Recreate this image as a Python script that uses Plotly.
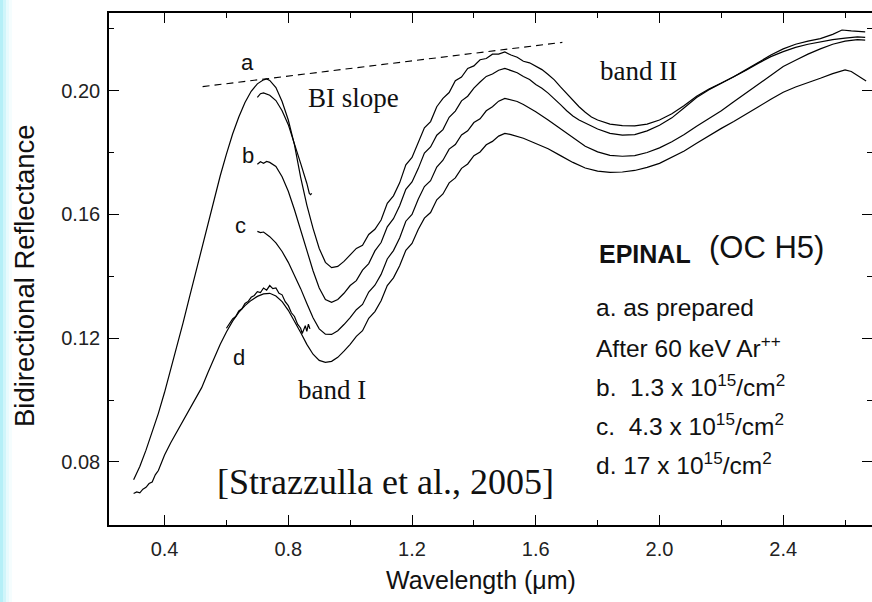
import plotly.graph_objects as go

# ---------------- data ----------------
a_x = [0.30, 0.32, 0.34, 0.36, 0.38, 0.40, 0.42, 0.44, 0.46, 0.48, 0.50, 0.52, 0.54, 0.56, 0.58, 0.60,
       0.62, 0.64, 0.66, 0.68, 0.70, 0.72, 0.73, 0.74, 0.76, 0.78, 0.80, 0.82, 0.84, 0.86, 0.88, 0.90,
       0.92, 0.94, 0.96, 0.98, 1.00, 1.02, 1.04, 1.06, 1.08, 1.10, 1.12, 1.14, 1.16, 1.18, 1.20, 1.22,
       1.24, 1.26, 1.28, 1.30, 1.32, 1.34, 1.36, 1.38, 1.40, 1.42, 1.44, 1.46, 1.48, 1.50, 1.52, 1.54,
       1.56, 1.58, 1.60, 1.62, 1.64, 1.66, 1.68, 1.70, 1.72, 1.74, 1.76, 1.78, 1.80, 1.84, 1.88, 1.92,
       1.96, 2.00, 2.04, 2.08, 2.12, 2.16, 2.20, 2.24, 2.28, 2.32, 2.36, 2.40, 2.44, 2.48, 2.52, 2.56,
       2.59, 2.62, 2.665]
a_y = [0.0742, 0.0785, 0.0838, 0.0895, 0.0957, 0.1025, 0.1097, 0.1172, 0.1250, 0.1330, 0.1410, 0.1490,
       0.1570, 0.1650, 0.1725, 0.1795, 0.1860, 0.1915, 0.1962, 0.1998, 0.2022, 0.2035, 0.2038, 0.2033,
       0.2010, 0.1965, 0.1905, 0.1825, 0.1720, 0.1630, 0.1555, 0.1490, 0.1445, 0.1428, 0.1432, 0.1448,
       0.1468, 0.1490, 0.1500, 0.1535, 0.1552, 0.1582, 0.1636, 0.1660, 0.1702, 0.1760, 0.1784, 0.1830,
       0.1880, 0.1900, 0.1948, 0.1975, 0.1994, 0.2032, 0.2044, 0.2072, 0.2080, 0.2100, 0.2104, 0.2118,
       0.2118, 0.2125, 0.2115, 0.2108, 0.2095, 0.2090, 0.2078, 0.2068, 0.2052, 0.2035, 0.2012, 0.1990,
       0.1968, 0.1948, 0.1930, 0.1915, 0.1905, 0.1892, 0.1887, 0.1886, 0.1892, 0.1905, 0.1925, 0.1952,
       0.1982, 0.2005, 0.2025, 0.2045, 0.2068, 0.2092, 0.2115, 0.2135, 0.2150, 0.2160, 0.2168, 0.2182,
       0.2196, 0.2193, 0.2190]

a2_x = [0.700, 0.705, 0.71, 0.72, 0.73, 0.74, 0.76, 0.78, 0.80, 0.82, 0.84, 0.86, 0.868, 0.872, 0.876]
a2_y = [0.1978, 0.1985, 0.1990, 0.1993, 0.1990, 0.1985, 0.1968, 0.1935, 0.1890, 0.1830, 0.1765, 0.1700,
        0.1668, 0.1664, 0.1668]

b_x = [0.70, 0.71, 0.72, 0.73, 0.74, 0.76, 0.78, 0.80, 0.82, 0.84, 0.86, 0.88, 0.90, 0.92, 0.94, 0.96,
       0.98, 1.00, 1.02, 1.04, 1.06, 1.08, 1.10, 1.12, 1.14, 1.16, 1.18, 1.20, 1.22, 1.24, 1.26, 1.28,
       1.30, 1.32, 1.34, 1.36, 1.38, 1.40, 1.42, 1.44, 1.46, 1.48, 1.50, 1.52, 1.54, 1.56, 1.58, 1.60,
       1.62, 1.64, 1.66, 1.68, 1.70, 1.72, 1.74, 1.76, 1.80, 1.84, 1.88, 1.92, 1.96, 2.00, 2.04, 2.08,
       2.12, 2.16, 2.20, 2.24, 2.28, 2.32, 2.36, 2.40, 2.44, 2.48, 2.52, 2.56, 2.60, 2.64, 2.665]
b_y = [0.1762, 0.1770, 0.1765, 0.1771, 0.1768, 0.1755, 0.1722, 0.1675, 0.1615, 0.1550, 0.1482, 0.1418,
       0.1362, 0.1325, 0.1316, 0.1325, 0.1345, 0.1370, 0.1386, 0.1420, 0.1441, 0.1482, 0.1509, 0.1560,
       0.1586, 0.1628, 0.1681, 0.1705, 0.1748, 0.1798, 0.1818, 0.1856, 0.1874, 0.1914, 0.1934, 0.1967,
       0.1982, 0.2008, 0.2028, 0.2046, 0.2054, 0.2066, 0.2072, 0.2066, 0.2058, 0.2046, 0.2036, 0.2020,
       0.2008, 0.1992, 0.1975, 0.1955, 0.1935, 0.1918, 0.1905, 0.1895, 0.1876, 0.1862, 0.1856, 0.1858,
       0.1870, 0.1888, 0.1912, 0.1945, 0.1978, 0.2003, 0.2024, 0.2044, 0.2066, 0.2089, 0.2110, 0.2126,
       0.2140, 0.2150, 0.2158, 0.2165, 0.2170, 0.2174, 0.2172]

c_x = [0.70, 0.71, 0.72, 0.74, 0.76, 0.78, 0.80, 0.82, 0.84, 0.86, 0.88, 0.90, 0.92, 0.94, 0.96, 0.98,
       1.00, 1.02, 1.04, 1.06, 1.08, 1.10, 1.12, 1.14, 1.16, 1.18, 1.20, 1.22, 1.24, 1.26, 1.28, 1.30,
       1.32, 1.34, 1.36, 1.38, 1.40, 1.42, 1.44, 1.46, 1.48, 1.50, 1.52, 1.54, 1.56, 1.60, 1.64, 1.68,
       1.72, 1.76, 1.80, 1.84, 1.88, 1.92, 1.96, 2.00, 2.04, 2.08, 2.12, 2.16, 2.20, 2.24, 2.28, 2.32,
       2.36, 2.40, 2.44, 2.48, 2.52, 2.56, 2.60, 2.64, 2.665]
c_y = [0.1545, 0.1541, 0.1543, 0.1528, 0.1508, 0.1480, 0.1445, 0.1405, 0.1360, 0.1312, 0.1266, 0.1230,
       0.1213, 0.1212, 0.1224, 0.1244, 0.1266, 0.1292, 0.1309, 0.1349, 0.1371, 0.1406, 0.1456, 0.1483,
       0.1524, 0.1578, 0.1600, 0.1649, 0.1690, 0.1709, 0.1753, 0.1775, 0.1811, 0.1826, 0.1857, 0.1870,
       0.1897, 0.1909, 0.1935, 0.1948, 0.1966, 0.1975, 0.1970, 0.1965, 0.1955, 0.1932, 0.1905, 0.1876,
       0.1846, 0.1820, 0.1802, 0.1791, 0.1788, 0.1790, 0.1800, 0.1815, 0.1835, 0.1858, 0.1885, 0.1910,
       0.1935, 0.1964, 0.1992, 0.2022, 0.2050, 0.2078, 0.2098, 0.2118, 0.2135, 0.2150, 0.2160, 0.2165,
       0.2163]

d_x = [0.30, 0.31, 0.32, 0.33, 0.34, 0.35, 0.36, 0.37, 0.38, 0.39, 0.40, 0.42, 0.44, 0.46, 0.48, 0.50,
       0.52, 0.54, 0.56, 0.58, 0.60, 0.62, 0.64, 0.66, 0.68, 0.70, 0.72, 0.74, 0.76, 0.78, 0.80, 0.82,
       0.84, 0.86, 0.88, 0.90, 0.92, 0.94, 0.96, 0.98, 1.00, 1.02, 1.04, 1.06, 1.08, 1.10, 1.12, 1.14,
       1.16, 1.18, 1.20, 1.22, 1.24, 1.26, 1.28, 1.30, 1.32, 1.34, 1.36, 1.38, 1.40, 1.42, 1.44, 1.46,
       1.48, 1.50, 1.52, 1.56, 1.60, 1.64, 1.68, 1.72, 1.76, 1.80, 1.84, 1.88, 1.92, 1.96, 2.00, 2.04,
       2.08, 2.12, 2.16, 2.20, 2.24, 2.28, 2.32, 2.36, 2.40, 2.44, 2.48, 2.52, 2.56, 2.60, 2.62, 2.64,
       2.668]
d_y = [0.0698, 0.0703, 0.0700, 0.0712, 0.0718, 0.0730, 0.0735, 0.0758, 0.0772, 0.0800, 0.0822, 0.0862,
       0.0898, 0.0932, 0.0968, 0.1002, 0.1040, 0.1088, 0.1135, 0.1180, 0.1220, 0.1255, 0.1283, 0.1305,
       0.1322, 0.1335, 0.1343, 0.1345, 0.1336, 0.1318, 0.1290, 0.1256, 0.1218, 0.1180, 0.1148, 0.1128,
       0.1122, 0.1125, 0.1138, 0.1158, 0.1180, 0.1206, 0.1224, 0.1264, 0.1286, 0.1321, 0.1370, 0.1395,
       0.1434, 0.1484, 0.1506, 0.1551, 0.1588, 0.1606, 0.1647, 0.1666, 0.1702, 0.1718, 0.1749, 0.1763,
       0.1790, 0.1802, 0.1825, 0.1836, 0.1853, 0.1862, 0.1858, 0.1846, 0.1830, 0.1812, 0.1790, 0.1768,
       0.1750, 0.1740, 0.1736, 0.1737, 0.1742, 0.1752, 0.1765, 0.1785, 0.1805, 0.1830, 0.1855, 0.1878,
       0.1900, 0.1925, 0.1948, 0.1972, 0.1995, 0.2012, 0.2025, 0.2040, 0.2055, 0.2067, 0.2062, 0.2048,
       0.2031]

d2_x = [0.60, 0.62, 0.63, 0.64, 0.65, 0.66, 0.67, 0.68, 0.69, 0.70, 0.71, 0.72, 0.73, 0.74, 0.75, 0.76,
        0.77, 0.78, 0.79, 0.80, 0.81, 0.82, 0.83, 0.84, 0.845, 0.85, 0.855, 0.86, 0.865, 0.87]
d2_y = [0.1232, 0.1262, 0.1270, 0.1288, 0.1295, 0.1312, 0.1318, 0.1332, 0.1338, 0.1350, 0.1347, 0.1362,
        0.1355, 0.1370, 0.1360, 0.1362, 0.1345, 0.1340, 0.1318, 0.1305, 0.1282, 0.1270, 0.1245, 0.1232,
        0.1215, 0.1225, 0.1240, 0.1222, 0.1245, 0.1230]

slope_x = [0.523, 1.686]
slope_y = [0.2013, 0.2156]

x_ticks = [0.4, 0.8, 1.2, 1.6, 2.0, 2.4]
x_minor = [0.6, 1.0, 1.4, 1.8, 2.2, 2.6]
y_ticks = [0.08, 0.12, 0.16, 0.20]
y_minor = [0.10, 0.14, 0.18, 0.22]

x_title = "Wavelength (\u03bcm)"
y_title = "Bidirectional Reflectance"
legend_lines = ["a. as prepared",
                "After 60 keV Ar<sup>++</sup>",
                "b.  1.3 x 10<sup>15</sup>/cm<sup>2</sup>",
                "c.  4.3 x 10<sup>15</sup>/cm<sup>2</sup>",
                "d. 17 x 10<sup>15</sup>/cm<sup>2</sup>"]

# ---------------- layout geometry ----------------
W, H = 872, 602
L, R, T, B = 109, 0, 13, 77
PW, PH = W - L - R, H - T - B
SANS = "Arial, Liberation Sans, sans-serif"
SERIF = "Times New Roman, Liberation Serif, serif"


def px(x):
    return (x - L) / PW


def py(y):
    return (H - B - y) / PH


fig = go.Figure()
line_style = dict(color="black", width=1.2)
for xs, ys in [(a_x, a_y), (a2_x, a2_y), (b_x, b_y), (c_x, c_y), (d_x, d_y), (d2_x, d2_y)]:
    fig.add_trace(go.Scatter(x=xs, y=ys, mode="lines", line=line_style, hoverinfo="skip"))
fig.add_trace(go.Scatter(x=slope_x, y=slope_y, mode="lines",
                         line=dict(color="black", width=1.1, dash="7px,5px"), hoverinfo="skip"))

ann = []


def text(x, y, s, size, font=SANS, xanchor="center", bold=False, color="#111"):
    if bold:
        s = "<b>" + s + "</b>"
    ann.append(dict(x=px(x), y=py(y), xref="paper", yref="paper", text=s, showarrow=False,
                    xanchor=xanchor, yanchor="middle", font=dict(family=font, size=size, color=color)))


text(247, 62, "a", 22)
text(248, 155, "b", 22)
text(240, 225, "c", 22)
text(239, 357, "d", 22)
text(353, 98, "BI slope", 27, SERIF)
text(638, 71, "band II", 27, SERIF)
text(332, 390, "band I", 27, SERIF)
text(385, 482, "[Strazzulla et al., 2005]", 36, SERIF)
text(597, 254, "EPINAL", 25, xanchor="left", bold=True)
text(707, 247, "(OC H5)", 31, xanchor="left")
for i, s in enumerate(legend_lines):
    text(594, 307 + i * 39.2, s, 24.5, xanchor="left")
text(481, 580, x_title, 25)
ann.append(dict(x=px(24), y=py(276), xref="paper", yref="paper", text=y_title, showarrow=False,
                textangle=-90, xanchor="center", yanchor="middle",
                font=dict(family=SANS, size=27.5, color="#111")))

shapes = []
stripe = [(0, 3, "rgba(120,225,240,0.55)"), (3, 6, "rgba(150,232,245,0.45)"),
          (6, 9, "rgba(190,242,250,0.35)"), (9, 12, "rgba(215,248,252,0.25)")]
for x0, x1, col in stripe:
    shapes.append(dict(type="rect", xref="paper", yref="paper", x0=px(x0), x1=px(x1),
                       y0=py(H), y1=py(0), fillcolor=col, line=dict(width=0), layer="below"))

axis_common = dict(showgrid=False, zeroline=False, showline=True, linecolor="black", linewidth=1.6,
                   mirror="allticks", ticks="inside", ticklen=10, tickwidth=1.3, tickcolor="black",
                   tickfont=dict(family=SANS, size=20, color="#222"))

fig.update_layout(
    width=W, height=H, margin=dict(l=L, r=R, t=T, b=B, autoexpand=False),
    paper_bgcolor="white", plot_bgcolor="white", showlegend=False,
    xaxis=dict(range=[0.2204, 2.687], tickvals=x_ticks, ticktext=[f"{v:.1f}" for v in x_ticks],
               minor=dict(tickvals=x_minor, ticks="inside", ticklen=5, tickwidth=1.2, tickcolor="black"),
               ticklabelstandoff=5, **axis_common),
    yaxis=dict(range=[0.0596, 0.2251], tickvals=y_ticks, ticktext=[f"{v:.2f}" for v in y_ticks],
               minor=dict(tickvals=y_minor, ticks="inside", ticklen=5, tickwidth=1.2, tickcolor="black"),
               ticklabelstandoff=3, **axis_common),
    annotations=ann, shapes=shapes,
)

fig.write_html("out.html", config={"displayModeBar": False},
               post_script="document.body.style.margin='0px';"
                           "document.body.style.overflow='hidden';")
